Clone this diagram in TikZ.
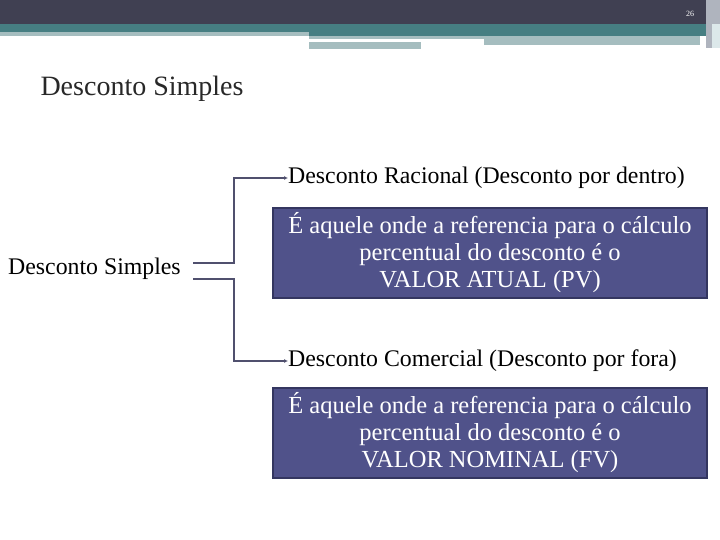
\documentclass[tikz,border=0pt]{standalone}
\usepackage{fontspec}
\setmainfont{Liberation Serif}
\usetikzlibrary{arrows.meta}
\definecolor{hdark}{RGB}{64,64,82}
\definecolor{hteal}{RGB}{70,126,130}
\definecolor{hlight}{RGB}{165,189,191}
\definecolor{hgray}{RGB}{175,180,190}
\definecolor{hpale}{RGB}{220,232,234}
\definecolor{bfill}{RGB}{80,82,138}
\definecolor{bdraw}{RGB}{52,54,96}
\definecolor{cline}{RGB}{80,80,110}
\definecolor{ttl}{RGB}{40,40,40}
\begin{document}
\begin{tikzpicture}[x=1pt,y=-1pt,
  conn/.style={draw=cline, line width=1.6pt, -{Latex[length=4pt,width=4pt]}},
  txt/.style={font=\fontsize{23.8}{27}\selectfont, text=black},
  box/.style={draw=bdraw, line width=2pt, fill=bfill, text=white, align=center, minimum width=434pt, minimum height=90pt, anchor=north west, font=\fontsize{24.5}{27}\selectfont, inner sep=0pt}]
\useasboundingbox (0,0) rectangle (720,540);
\fill[white] (0,0) rectangle (720,540);
% header
\fill[hdark] (0,0) rectangle (720,24);
\fill[hteal] (0,24) rectangle (720,32);
\fill[hteal] (309,32) rectangle (720,36);
\fill[hlight] (0,32) rectangle (309,36);
\fill[hlight] (309,36) rectangle (700,39);
\fill[hlight] (309,42) rectangle (421,49);
\fill[hlight] (484,39) rectangle (700,45);
\fill[hgray] (706,0) rectangle (720,48);
\fill[hpale] (712,24) rectangle (720,48);
\node[text=white, font=\fontsize{8}{8}\selectfont] (pg) at (690,14) {26};
% title
\node[anchor=west, font=\fontsize{28}{30}\selectfont, text=ttl] (title) at (37,89) {Desconto Simples};
% left
\node[txt, anchor=west, inner sep=0pt] (ds) at (8,269) {Desconto Simples};
\coordinate (s1) at (193,263);
\coordinate (s2) at (193,279);
\node[txt, anchor=west, inner sep=0pt] (dr) at (288,178) {Desconto Racional (Desconto por dentro)};
\node[txt, anchor=west, inner sep=0pt] (dc) at (288,361) {Desconto Comercial (Desconto por fora)};
\draw[conn] (s1) -- (234,263) |- (dr.west);
\draw[conn] (s2) -- (234,279) |- (dc.west);
\node[box] (b1) at (272,207) {É aquele onde a referencia para o cálculo\\percentual do desconto é o\\VALOR ATUAL (PV)};
\node[box] (b2) at (272,387) {É aquele onde a referencia para o cálculo\\percentual do desconto é o\\VALOR NOMINAL (FV)};
\end{tikzpicture}
\end{document}
